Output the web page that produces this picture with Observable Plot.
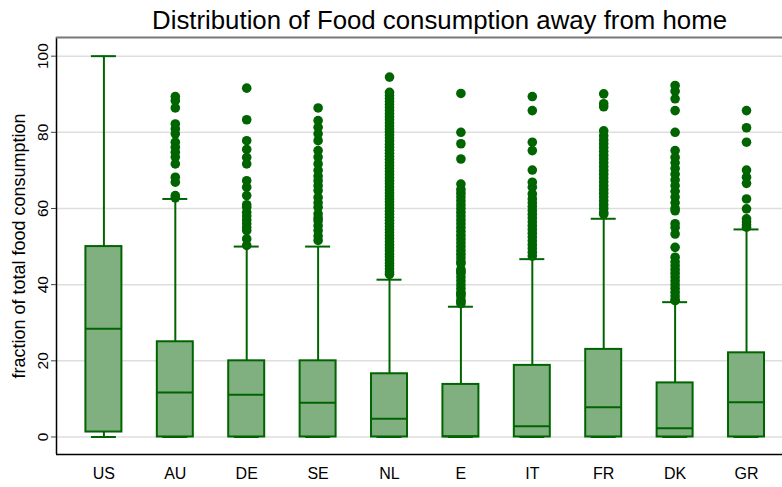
<!DOCTYPE html>
<html><head><meta charset="utf-8">
<script src="https://cdn.jsdelivr.net/npm/d3@7"></script>
<script src="https://cdn.jsdelivr.net/npm/@observablehq/plot@0.6"></script>
<style>body{margin:0;background:#fff} svg{display:block}</style>
</head><body><div id="chart"></div>
<script>
const title = "Distribution of Food consumption away from home";
const yLabel = "fraction of total food consumption";
const categories = ["US","AU","DE","SE","NL","E","IT","FR","DK","GR"];
const lowerWhisker = [0,0,0,0,0,0,0,0,0,0];
const q1 = [1.3,0,0,0,0,0,0,0,0,0];
const median = [28.4,11.7,11.1,9.0,4.8,0.2,2.8,7.8,2.3,9.1];
const q3 = [50,25,20,20,16.6,13.8,18.8,23,14.2,22.1];
const upperWhisker = [100,62.5,50,50,41.3,34.2,46.7,57.3,35.4,54.5];
const yTicks = [0,20,40,60,80,100];

const outUS = [];
const outAU = [89.4,88.3,86.4,82.2,80.9,79.6,77.4,76.1,74.8,73.5,71.7,68.2,66.9,63.4,62.8];
const outDE = [91.6,83.3,77.8,75.5,73.4,71.7,67.3,65.6,63.4,61,60.3,59,58,57,56,55,54.2,52,50.3];
const outSE = [86.4,83.1,81.3,79.6,77.8,75.2,73.5,71.7,70,68.5,67.3,66,64.7,62.9,61.5,60.3,58.6,57.5,56.8,55.5,54.2,52.8,51.6];
const outNL = [94.5,90.5,89.7,88.9,88.1,87.3,86.5,85.7,84.9,84.1,83.3,82.5,81.7,80.9,80.1,79.3,78.5,77.7,76.9,76.1,75.3,74.5,73.7,72.9,72.1,71.3,70.5,69.7,68.9,68.1,67.3,66.5,65.7,64.9,64.1,63.3,62.5,61.7,60.9,60.1,59.3,58.5,57.7,56.9,56.1,55.3,54.5,53.7,52.9,52.1,51.3,50.5,49.7,48.9,48.1,47.3,46.5,45.7,44.9,44.1,43.3,42.7];
const outE = [90.2,80,77,73,66.4,65,64,63,62,61,60,59,58,57,56,55,54,53,52,51,50,49,48,47,46,45.5,44,43.5,43,42,41,40,39,38,37.5,37,36,35.5,35];
const outIT = [89.4,85.7,77.4,75.2,70.1,66.9,65.6,63.8,62.5,61.5,60.5,59.5,58.5,57.5,56.5,55.5,54.5,53.5,52.5,51.5,50.5,49.5,48.5,47.5];
const outFR = [90.1,87.5,86.7,80.4,79.1,78,77,76,75,74,73,72,71,70,69,68,67,66,65,64,63,62,61,60,59,58.5];
const outDK = [92.3,90.8,88.8,85.7,80,75.2,73.4,72,70.5,69,67.5,66,64.5,63,61.5,60,59.4,56,55,53.3,49.8,47.2,46,45,44,43,42,41,40,39,38,37,36,35.8];
const outGR = [85.7,81.2,77.4,70.1,68.2,66.6,62.5,59.9,57.3,56.5,55.7,55.1];

const outlierLists = [outUS,outAU,outDE,outSE,outNL,outE,outIT,outFR,outDK,outGR];
const boxes = categories.map((c,i)=>({i, c, lo:lowerWhisker[i], q1:q1[i], median:median[i], q3:q3[i], hi:upperWhisker[i]}));
const outliers = outlierLists.flatMap((arr,i)=>arr.map(v=>({i, v})));

const xDomain = [-0.664, 9.504];
const yDomain = [-4.6, 104.9];
const BW = 0.252, CW = 0.175;
const green = "#006400";
const fillGreen = "#80b080";

const plot = Plot.plot({
  width: 782, height: 487,
  marginLeft: 56, marginRight: 0, marginTop: 37, marginBottom: 33,
  style: {fontFamily: "'Liberation Sans', Arial, sans-serif", background: "white", color: "black"},
  x: {type: "linear", domain: xDomain},
  y: {domain: yDomain},
  marks: [
    Plot.ruleY(yTicks, {stroke: "#dedede", strokeWidth: 1.5}),
    Plot.ruleX(boxes, {x: "i", y1: "q3", y2: "hi", stroke: green, strokeWidth: 2}),
    Plot.ruleX(boxes, {x: "i", y1: "lo", y2: "q1", stroke: green, strokeWidth: 2}),
    Plot.ruleY(boxes, {y: "hi", x1: d => d.i - CW, x2: d => d.i + CW, stroke: green, strokeWidth: 2}),
    Plot.ruleY(boxes, {y: "lo", x1: d => d.i - CW, x2: d => d.i + CW, stroke: green, strokeWidth: 2}),
    Plot.rect(boxes, {x1: d => d.i - BW, x2: d => d.i + BW, y1: "q1", y2: "q3", fill: fillGreen, stroke: green, strokeWidth: 2}),
    Plot.ruleY(boxes, {y: "median", x1: d => d.i - BW, x2: d => d.i + BW, stroke: green, strokeWidth: 2}),
    Plot.dot(outliers, {x: "i", y: "v", r: 4.8, fill: green, stroke: "none"}),
    Plot.ruleX([xDomain[0]], {stroke: "black", strokeWidth: 1.5}),
    Plot.ruleY([yDomain[0]], {stroke: "black", strokeWidth: 1.5}),
    Plot.ruleY([yDomain[1]], {stroke: "#777", strokeWidth: 2}),
    Plot.axisY(yTicks, {tickSize: 5, tickRotate: -90, tickPadding: 4, fontSize: 15.5, label: null, stroke: "#444"}),
    Plot.axisX(categories.map((c, i) => i), {tickFormat: i => categories[i], tickSize: 0, tickPadding: 13, fontSize: 16, label: null}),
    Plot.text([title], {frameAnchor: "top", dx: 20, dy: -17, fontSize: 25.8, lineAnchor: "middle"}),
    Plot.text([yLabel], {frameAnchor: "left", textAnchor: "middle", dx: -37, rotate: -90, fontSize: 18, lineAnchor: "middle"})
  ]
});
document.getElementById("chart").appendChild(plot);
</script>
</body></html>
